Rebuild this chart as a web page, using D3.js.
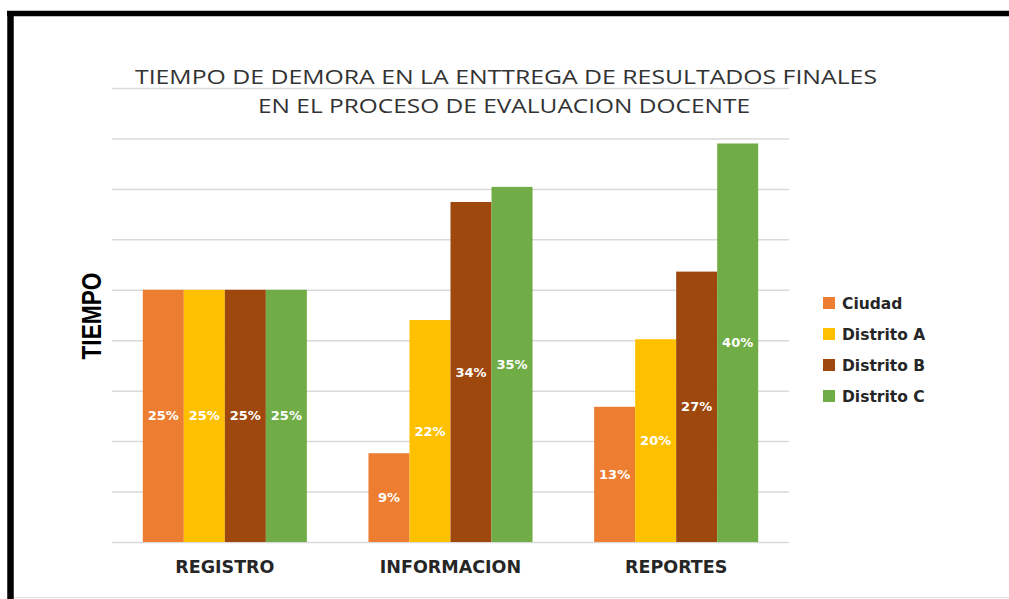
<!DOCTYPE html>
<html>
  <head>
    <meta charset="utf-8">
    <title>Tiempo de demora</title>
    <style>
    body { margin: 0; background: #fff; }
    svg { display: block; }
    </style>
  </head>
  <body>
    <script src="https://d3js.org/d3.v7.min.js"></script>
    <script>

    // datos (porcentajes)
    var categorias = ["REGISTRO", "INFORMACION", "REPORTES"];
    var series = ["Ciudad", "Distrito A", "Distrito B", "Distrito C"];
    var ciudad    = [25, 8.8, 13.4];
    var distritoA = [25, 22, 20.1];
    var distritoB = [25, 33.7, 26.8];
    var distritoC = [25, 35.2, 39.5];
    var colores = ["#ED7D31", "#FFC000", "#9E480E", "#70AD47"];
    var titulo = ["TIEMPO DE DEMORA EN LA ENTTREGA DE RESULTADOS FINALES",
                  "EN EL PROCESO DE EVALUACION DOCENTE"];

    var valores = [ciudad, distritoA, distritoB, distritoC];

    var width = 1009, height = 599;
    var margin = {top: 88, left: 112, right: 220, bottom: 57};

    var svg = d3.select("body").append("svg")
      .attr("width", width)
      .attr("height", height);

    // marco negro (arriba e izquierda) y linea gris abajo
    svg.append("line")
      .attr("x1", 7).attr("x2", width).attr("y1", 13.5).attr("y2", 13.5)
      .attr("stroke", "#000").attr("stroke-width", 5.5);
    svg.append("line")
      .attr("x1", 10.5).attr("x2", 10.5).attr("y1", 11).attr("y2", height)
      .attr("stroke", "#000").attr("stroke-width", 6.5);
    svg.append("line")
      .attr("x1", 14).attr("x2", width).attr("y1", 597.5).attr("y2", 597.5)
      .attr("stroke", "#e4e4e4").attr("stroke-width", 1);

    var x0 = d3.scaleBand()
      .domain(categorias)
      .range([margin.left, width - margin.right])
      .paddingInner(0.273)
      .paddingOuter(0.1365);

    var x1 = d3.scaleBand()
      .domain(series)
      .range([0, x0.bandwidth()]);

    var y = d3.scaleLinear()
      .domain([0, 45])
      .range([height - margin.bottom, margin.top]);

    // rejilla horizontal
    svg.append("g")
      .attr("transform", "translate(" + margin.left + ",0)")
      .call(d3.axisLeft(y).tickValues(d3.range(0, 46, 5))
        .tickSize(-(width - margin.right - margin.left)).tickFormat(""))
      .call(function(g) {
        g.select(".domain").remove();
        g.selectAll(".tick line").attr("stroke", "#d9d9d9").attr("stroke-width", 1.5);
      });

    // titulo
    svg.append("text")
      .attr("x", 506).attr("y", 84)
      .attr("text-anchor", "middle")
      .attr("textLength", 742).attr("lengthAdjust", "spacingAndGlyphs")
      .style("font", "20px 'Open Sans'")
      .attr("fill", "#333")
      .text(titulo[0]);
    svg.append("text")
      .attr("x", 504).attr("y", 113)
      .attr("text-anchor", "middle")
      .attr("textLength", 492).attr("lengthAdjust", "spacingAndGlyphs")
      .style("font", "20px 'Open Sans'")
      .attr("fill", "#333")
      .text(titulo[1]);

    // barras
    var grupos = svg.append("g").selectAll("g")
      .data(categorias)
      .enter().append("g")
      .attr("transform", function(d) { return "translate(" + x0(d) + ",0)"; });

    grupos.selectAll("rect")
      .data(function(d, i) {
        return series.map(function(s, j) { return {serie: s, valor: valores[j][i], color: colores[j]}; });
      })
      .enter().append("rect")
      .attr("x", function(d) { return x1(d.serie); })
      .attr("width", x1.bandwidth())
      .attr("y", function(d) { return y(d.valor); })
      .attr("height", function(d) { return y(0) - y(d.valor); })
      .attr("fill", function(d) { return d.color; });

    grupos.selectAll("text")
      .data(function(d, i) {
        return series.map(function(s, j) { return {serie: s, valor: valores[j][i]}; });
      })
      .enter().append("text")
      .attr("x", function(d) { return x1(d.serie) + x1.bandwidth() / 2; })
      .attr("y", function(d) { return (y(d.valor) + y(0)) / 2 + 4.5; })
      .attr("text-anchor", "middle")
      .style("font", "bold 13px 'DejaVu Sans'")
      .attr("fill", "#fff")
      .text(function(d) { return Math.round(d.valor) + "%"; });

    // etiquetas de categorias
    svg.append("g").selectAll("text")
      .data(categorias)
      .enter().append("text")
      .attr("x", function(d) { return x0(d) + x0.bandwidth() / 2; })
      .attr("y", 573)
      .attr("text-anchor", "middle")
      .style("font", "bold 17.5px 'DejaVu Sans'")
      .attr("fill", "#262626")
      .text(function(d) { return d; });

    // titulo eje y
    svg.append("text")
      .attr("transform", "translate(101,316) rotate(-90)")
      .attr("text-anchor", "middle")
      .attr("textLength", 87).attr("lengthAdjust", "spacingAndGlyphs")
      .style("font", "bold 27px 'Liberation Sans'")
      .attr("fill", "#000")
      .text("TIEMPO");

    // leyenda
    var leyenda = svg.append("g").selectAll("g")
      .data(series)
      .enter().append("g")
      .attr("transform", function(d, i) { return "translate(823," + (303 + i * 31) + ")"; });
    leyenda.append("rect")
      .attr("x", 0).attr("y", -6).attr("width", 12).attr("height", 12)
      .attr("fill", function(d, i) { return colores[i]; });
    leyenda.append("text")
      .attr("x", 19).attr("y", 6)
      .style("font", "bold 15.5px 'DejaVu Sans'")
      .attr("fill", "#262626")
      .text(function(d) { return d; });

    </script>
  </body>
</html>
